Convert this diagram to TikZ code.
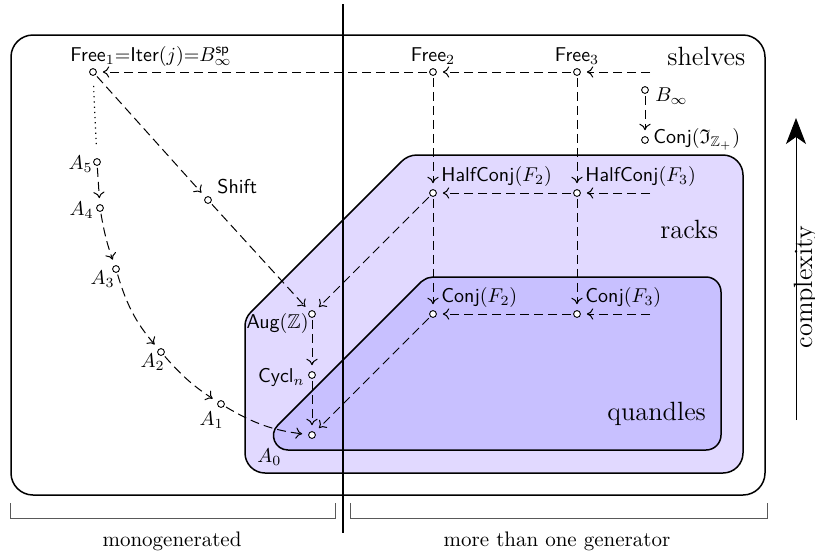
\documentclass[tikz,border=0pt]{standalone}
\usepackage{amssymb}
\usetikzlibrary{arrows.meta}
\definecolor{rackfill}{RGB}{225,217,255}
\definecolor{quandfill}{RGB}{200,192,255}
\begin{document}
\begin{tikzpicture}[x=0.5pt,y=-0.5pt,
  pt/.style={circle,draw,fill=white,inner sep=0pt,minimum size=3.4pt,line width=0.45pt},
  lbl/.style={font=\sffamily\fontsize{10}{12}\selectfont, inner sep=0pt},
  mlbl/.style={inner sep=0pt, font=\fontsize{10}{12}\selectfont},
  big/.style={inner sep=0pt,font=\fontsize{13.2}{15}\selectfont},
  brk/.style={inner sep=0pt,font=\fontsize{10.5}{12}\selectfont},
  arr/.style={-{To[length=3.2pt,width=5.6pt]}, dash pattern=on 4.5pt off 2.5pt, line width=0.5pt, shorten >=3pt, shorten <=1pt},
  frame/.style={line width=0.75pt}
]
\useasboundingbox (0,0) rectangle (815,553);
% regions
\draw[frame, rounded corners=11pt] (11,35) rectangle (765,495);
\draw[frame, fill=rackfill] (494,473) -- (265,473)
  .. controls (254,473) and (245,464) .. (245,453) -- (245,326)
  .. controls (245,320.9) and (247.05,315.95) .. (250.66,312.34) -- (401.64,161.36)
  .. controls (405.71,157.29) and (411.24,155) .. (417,155) -- (723,155)
  .. controls (734,155) and (743,164) .. (743,175) -- (743,453)
  .. controls (743,464) and (734,473) .. (723,473) -- cycle;
\draw[frame, fill=quandfill] (497,450) -- (706,450)
  .. controls (714.3,450) and (721,443.3) .. (721,435) -- (721,292)
  .. controls (721,283.7) and (714.3,277) .. (706,277) -- (433,277)
  .. controls (429,277) and (426.2,278.2) .. (421.1,281.9) -- (277.7,425.3)
  .. controls (268.6,434.4) and (275.1,450) .. (288,450) -- cycle;
% divider
\draw[line width=0.6pt] (343,4) -- (343,533);
% brackets
\draw[black!65, line width=0.5pt] (10,503) -- (10,518) -- (335,518) -- (335,503);
\draw[black!65, line width=0.5pt] (350,503) -- (350,518) -- (767,518) -- (767,503);
\node[brk,anchor=base] (mono) at (172,546) {monogenerated};
\node[brk,anchor=base] (more) at (557,546) {more than one generator};
% complexity
\coordinate (cxb) at (796,420);
\coordinate (cxt) at (796,118);
\draw[-{Stealth[length=13pt,width=10pt,inset=3.5pt]}, line width=0.5pt] (cxb) -- (cxt);
\node[big,rotate=90,anchor=base] (cx) at (812,287) {complexity};
% region labels
\node[big,anchor=base west] (shl) at (667,65) {shelves};
\node[big,anchor=base west] (rkl) at (660,238) {racks};
\node[big,anchor=base west] (qdl) at (607,420) {quandles};
% points
\node[pt] (f1) at (93,72) {};
\node[pt] (f2) at (433,72) {};
\node[pt] (f3) at (577,72) {};
\node[pt] (binf) at (645,90) {};
\node[pt] (cjI) at (645,140) {};
\node[pt] (hc2) at (433,193) {};
\node[pt] (hc3) at (577,193) {};
\node[pt] (c2) at (433,314) {};
\node[pt] (c3) at (577,314) {};
\node[pt] (aug) at (312,314) {};
\node[pt] (cyc) at (312,375) {};
\node[pt] (a0) at (312,435) {};
\node[pt] (shift) at (208,200) {};
\node[pt] (a5) at (97,162) {};
\node[pt] (a4) at (100,208) {};
\node[pt] (a3) at (116,269) {};
\node[pt] (a2) at (161,352) {};
\node[pt] (a1) at (221,404) {};
% labels
\node[lbl,anchor=base west] (f1l) at (70,61) {Free$_1{=}$Iter$(j){=}B^{\mathsf{sp}}_\infty$};
\node[lbl,anchor=base] (f2l) at (433,61) {Free$_2$};
\node[lbl,anchor=base] (f3l) at (577,61) {Free$_3$};
\node[mlbl,anchor=base west] (binfl) at (655,101) {$B_\infty$};
\node[lbl,anchor=base west] (cjIl) at (653,143) {Conj$(\mathfrak{I}_{\mathbb{Z}_+})$};
\node[lbl,anchor=base west] (hc2l) at (441,181) {HalfConj$(F_2)$};
\node[lbl,anchor=base west] (hc3l) at (585,181) {HalfConj$(F_3)$};
\node[lbl,anchor=base west] (c2l) at (441,302) {Conj$(F_2)$};
\node[lbl,anchor=base west] (c3l) at (585,302) {Conj$(F_3)$};
\node[lbl,anchor=base east] (augl) at (309,328) {Aug$(\mathbb{Z})$};
\node[lbl,anchor=base east] (cycl) at (305,382) {Cycl$_n$};
\node[mlbl,anchor=base west] (a0l) at (257,462) {$A_0$};
\node[lbl,anchor=base west] (shiftl) at (217,193) {Shift};
\node[mlbl,anchor=base east] (a5l) at (93,169) {$A_5$};
\node[mlbl,anchor=base east] (a4l) at (94,215) {$A_4$};
\node[mlbl,anchor=base east] (a3l) at (115,284) {$A_3$};
\node[mlbl,anchor=base east] (a2l) at (165,367) {$A_2$};
\node[mlbl,anchor=base east] (a1l) at (224,425) {$A_1$};
% free ends
\coordinate (e1) at (652,72);
\coordinate (e2) at (652,193);
\coordinate (e3) at (652,314);
% connectors
\draw[arr] (e1) -- (f3);
\draw[arr] (f3) -- (f2);
\draw[arr] (f2) -- (f1);
\draw[arr] (f2) -- (hc2);
\draw[arr] (f3) -- (hc3);
\draw[arr] (e2) -- (hc3);
\draw[arr] (hc3) -- (hc2);
\draw[arr] (hc2) -- (c2);
\draw[arr] (hc3) -- (c3);
\draw[arr] (e3) -- (c3);
\draw[arr] (c3) -- (c2);
\draw[arr] (binf) -- (cjI);
\draw[arr] (f1) -- (shift);
\draw[arr] (shift) -- (aug);
\draw[arr] (hc2) -- (aug);
\draw[arr] (aug) -- (cyc);
\draw[arr] (cyc) -- (a0);
\draw[arr] (c2) -- (a0);
\draw[dotted, line width=0.6pt, shorten <=5pt, shorten >=5pt] (f1) -- (a5);
\draw[arr] (a5) -- (a4);
\draw[arr] (a4) to[bend right=5] (a3);
\draw[arr] (a3) to[bend right=12] (a2);
\draw[arr] (a2) to[bend right=8] (a1);
\draw[arr] (a1) to[bend right=12] (a0);
\end{tikzpicture}
\end{document}
